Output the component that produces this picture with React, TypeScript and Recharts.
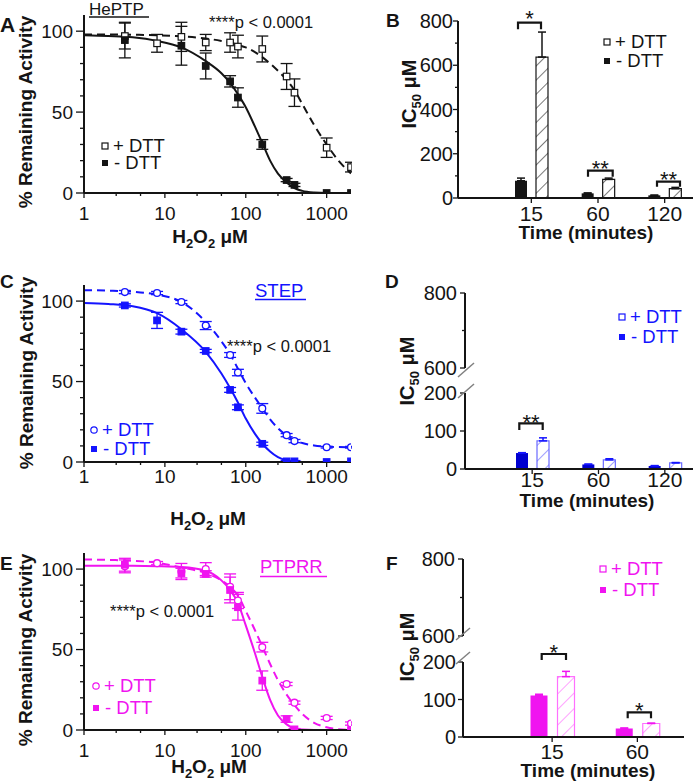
import React from 'react';
import { ComposedChart, BarChart, Bar, Line, Scatter, XAxis, YAxis, ErrorBar } from 'recharts';

const FONT = '"Liberation Sans", Arial, Helvetica, sans-serif';
const INK = '#141414';
const BLUE = '#1414ff';
const BLUE_DARK = '#0000d0';
const BLUE_LIGHT = '#6a6aff';
const MAGENTA = '#f014f0';
const MAGENTA_LIGHT = '#ff70ff';

// ---------- dose–response data (H2O2 µM vs % remaining activity) ----------
const concAll = [3.2, 8, 16, 32, 64, 80, 160, 320, 400, 1000, 2000];

const heptpPlusY = [97, 92.5, 96.5, 93, 93, 90.5, 89, 72, 62, 28, 16];
const heptpPlusErr = [8, 5.5, 9, 5, 6, 7, 8, 8, 8.5, 6, 3];
const heptpMinusX = [3.2, 16, 32, 64, 80, 160, 320, 400, 1000, 2000];
const heptpMinusY = [94.5, 91, 78.5, 69, 59, 30, 8, 5, 0, 0];
const heptpMinusErr = [11, 12, 8, 3.5, 6, 3, 1, 1, 0, 0];

const stepPlusY = [105.6, 105, 99.4, 84.8, 66.5, 55.6, 33.3, 16.7, 13, 9.2, 9.2];
const stepPlusErr = [1, 1, 1, 2.5, 1.5, 2, 3, 1, 1, 0.5, 0.5];
const stepMinusY = [97.3, 88, 81, 69, 44.8, 34, 11.3, 0.4, 0.4, 0, 0.4];
const stepMinusErr = [1, 5, 1.5, 1, 1.5, 1.5, 1, 0.5, 0.5, 0, 0];

const ptprrPlusY = [101.7, 103.7, 98.5, 100, 89, 80.5, 51.5, 28.6, 17, 7.5, 4];
const ptprrPlusErr = [4, 1, 5, 4, 8, 5, 3, 1, 1, 1, 1];
const ptprrMinusX = [3.2, 16, 32, 64, 80, 160, 320, 400, 2000];
const ptprrMinusY = [102.7, 97.5, 97, 87, 76.3, 30.7, 6.8, 0.4, 0];
const ptprrMinusErr = [4, 3, 2, 8, 8, 6, 2, 0.5, 0];

// fitted curves
const curveX = [1, 2, 4, 8, 16, 32, 50, 64, 80, 100, 130, 160, 200, 250, 320, 400, 500, 700, 1000, 1400, 2000];
const heptpPlusFit = [98, 98, 97.8, 97.5, 96.8, 95.5, 94, 93, 91.5, 90, 87, 84, 80, 75.5, 70, 63.5, 55, 42, 30, 20, 12];
const heptpMinusFit = [97.5, 97, 96.2, 94, 90, 81.5, 74, 68, 61, 53, 41, 31, 20, 12, 6.5, 3, 1.3, 0.3, 0, 0, 0];
const stepPlusFit = [106.8, 106.5, 105.8, 104, 99.5, 87, 75, 67, 58, 49, 40, 33.5, 26.5, 21, 16.5, 13.5, 11.8, 10.3, 9.6, 9.3, 9.2];
const stepMinusFit = [98.8, 98.2, 96.8, 92.5, 82.5, 68.5, 55, 46, 37, 27, 17.5, 11.5, 6.5, 3, 1, 0.3, 0, 0, 0, 0, 0];
const ptprrPlusFit = [106, 105.7, 105.2, 104, 101, 97.5, 93, 89, 83.5, 74, 62, 52, 41, 31, 22, 15.5, 10, 4.5, 1.7, 0.5, 0];
const ptprrMinusFit = [102, 102, 102, 101.8, 101.3, 99, 93, 87, 79, 65, 47.7, 33, 18.7, 9, 3.5, 1, 0.3, 0, 0, 0, 0];

const logTicks = [1, 2.5, 5, 10, 25, 50, 100, 250, 500, 1000];
const logLabels = [1, 10, 100, 1000];
const activityTicks = [0, 10, 20, 30, 40, 50, 60, 70, 80, 90, 100];
const activityLabels = [0, 50, 100];

// ---------- IC50 bar data ----------
const timesBD = ['15', '60', '120'];
const heptpIcMinus = [78, 21, 12];
const heptpIcMinusErr = [12, 2, 1];
const heptpIcPlus = [637, 84, 42];
const heptpIcPlusErr = [113, 6, 6];

const stepIcMinus = [42, 12, 8];
const stepIcMinusErr = [1, 1, 1];
const stepIcPlus = [74, 24, 16];
const stepIcPlusErr = [8, 3, 1];

const timesF = ['15', '60'];
const ptprrIcMinus = [111, 23];
const ptprrIcMinusErr = [3, 1];
const ptprrIcPlus = [161, 36];
const ptprrIcPlusErr = [14, 1];

const icTicksFull = [0, 100, 200, 300, 400, 500, 600, 700, 800];
const icLabelsFull = [0, 200, 400, 600, 800];

type Pt = { x: number; y: number; e: number };
const mk = (xs: number[], ys: number[], es?: number[]): Pt[] =>
  xs.map((x, i) => ({ x, y: ys[i], e: es ? es[i] : 0 }));
const mkRows = (ts: string[], mi: number[], miE: number[], pl: number[], plE: number[]) =>
  ts.map((t, i) => ({ t, minus: mi[i], minusE: [0, miE[i]], plus: pl[i], plusE: [0, plE[i]] }));

// ---------- ticks ----------
const logTick = (labelDy: number) => (props: any) => {
  const { x, y, payload } = props;
  const v = payload.value;
  const major = logLabels.includes(v);
  return (
    <g>
      <line x1={x} x2={x} y1={y} y2={y + (major ? 5 : 3)} stroke={INK} strokeWidth={1.3} />
      {major && (
        <text x={x} y={y + labelDy} textAnchor="middle" fontSize={19} fill={INK} fontFamily={FONT}>
          {v}
        </text>
      )}
    </g>
  );
};

const actTick = (props: any) => {
  const { x, y, payload } = props;
  const v = payload.value;
  const major = activityLabels.includes(v);
  return (
    <g>
      <line x1={x} x2={x - (major ? 8 : 4)} y1={y} y2={y} stroke={INK} strokeWidth={1.3} />
      {major && (
        <text x={x - 11} y={y + 6.5} textAnchor="end" fontSize={19} fill={INK} fontFamily={FONT}>
          {v}
        </text>
      )}
    </g>
  );
};

const icTick = (labels: number[], gap: number) => (props: any) => {
  const { x, y, payload } = props;
  const v = payload.value;
  const major = labels.includes(v);
  return (
    <g>
      <line x1={x} x2={x - (major ? 5 : 3)} y1={y} y2={y} stroke={INK} strokeWidth={1.3} />
      {major && (
        <text x={x - gap} y={y + 7} textAnchor="end" fontSize={20} fill={INK} fontFamily={FONT}>
          {v}
        </text>
      )}
    </g>
  );
};

const catTick = (labelDy: number) => (props: any) => {
  const { x, y, payload } = props;
  return (
    <g>
      <line x1={x} x2={x} y1={y} y2={y + 5} stroke={INK} strokeWidth={1.3} />
      <text x={x} y={y + labelDy} textAnchor="middle" fontSize={21} fill={INK} fontFamily={FONT}>
        {payload.value}
      </text>
    </g>
  );
};

// ---------- marker shapes ----------
const squareShape = (color: string, filled: boolean, s = 6.5) => (p: any) => {
  if (p.cx == null || p.cy == null) return <g />;
  return (
    <rect x={p.cx - s / 2} y={p.cy - s / 2} width={s} height={s}
      fill={filled ? color : '#fff'} stroke={color} strokeWidth={1.2} />
  );
};
const circleShape = (color: string) => (p: any) => {
  if (p.cx == null || p.cy == null) return <g />;
  return <circle cx={p.cx} cy={p.cy} r={3.4} fill="#fff" stroke={color} strokeWidth={1.3} />;
};

type DoseProps = {
  top: number;
  plotH: number;
  color: string;
  plus: Pt[];
  minus: Pt[];
  plusFit: Pt[];
  minusFit: Pt[];
  circlePlus: boolean;
  labelDy: number;
};

function DosePanel({ top, plotH, color, plus, minus, plusFit, minusFit, circlePlus, labelDy }: DoseProps) {
  const height = 255;
  return (
    <div style={{ position: 'absolute', left: 0, top }}>
      <ComposedChart width={352} height={height} margin={{ top: 15, right: 1, bottom: 0, left: 0 }}>
        <XAxis type="number" dataKey="x" scale="log" domain={[1, 2000]} allowDataOverflow
          ticks={logTicks} interval={0} tickSize={0} tickMargin={0} tickLine={false}
          tick={logTick(labelDy)} axisLine={{ stroke: INK, strokeWidth: 2 }} height={height - 15 - plotH} />
        <YAxis type="number" dataKey="y" domain={[0, 110]} allowDataOverflow ticks={activityTicks}
          interval={0} tickSize={0} tickMargin={0} tickLine={false} tick={actTick}
          axisLine={{ stroke: INK, strokeWidth: 2 }} width={84} />
        <Line data={plusFit} dataKey="y" type="monotone" stroke={color} strokeWidth={2}
          strokeDasharray="8 5" dot={false} activeDot={false} isAnimationActive={false} />
        <Line data={minusFit} dataKey="y" type="monotone" stroke={color} strokeWidth={2}
          dot={false} activeDot={false} isAnimationActive={false} />
        <Scatter data={plus} shape={circlePlus ? circleShape(color) : squareShape(color, false)} isAnimationActive={false}>
          <ErrorBar dataKey="e" direction="y" width={6} stroke={color} strokeWidth={1.3} />
        </Scatter>
        <Scatter data={minus} shape={squareShape(color, true)} isAnimationActive={false}>
          <ErrorBar dataKey="e" direction="y" width={6} stroke={color} strokeWidth={1.3} />
        </Scatter>
      </ComposedChart>
    </div>
  );
}

type BarProps = {
  id: string;
  top: number;
  width: number;
  rows: any[];
  yWidth: number;
  padLeft: number;
  padRight: number;
  plotH: number;
  domain: [number, number];
  ticks: number[];
  labels: number[];
  labelGap: number;
  labelDy: number;
  barSize: number;
  barGap: number;
  solid: string;
  hatchStroke: string;
  outline: string;
  errColor: string;
  hatchGap: number;
};

function BarPanel(p: BarProps) {
  const height = 10 + p.plotH + 50;
  return (
    <div style={{ position: 'absolute', left: 350, top: p.top }}>
      <BarChart width={p.width} height={height} data={p.rows} margin={{ top: 10, right: 0, bottom: 0, left: 0 }}
        barSize={p.barSize} barGap={p.barGap}>
        <defs>
          <pattern id={p.id} patternUnits="userSpaceOnUse" width={p.hatchGap} height={p.hatchGap} patternTransform="rotate(45)">
            <rect x={0} y={0} width={p.hatchGap} height={p.hatchGap} fill="#fff" />
            <line x1={0} y1={0} x2={0} y2={p.hatchGap} stroke={p.hatchStroke} strokeWidth={1.3} />
          </pattern>
        </defs>
        <XAxis dataKey="t" type="category" padding={{ left: p.padLeft, right: p.padRight }}
          tickSize={0} tickMargin={0} tickLine={false} interval={0} tick={catTick(p.labelDy)}
          axisLine={{ stroke: INK, strokeWidth: 2 }} height={50} />
        <YAxis type="number" domain={p.domain} allowDataOverflow ticks={p.ticks} interval={0}
          tickSize={0} tickMargin={0} tickLine={false} tick={icTick(p.labels, p.labelGap)}
          axisLine={{ stroke: INK, strokeWidth: 2 }} width={p.yWidth} />
        <Bar dataKey="minus" fill={p.solid} isAnimationActive={false}>
          <ErrorBar dataKey="minusE" direction="y" width={4} stroke={p.errColor} strokeWidth={1.5} />
        </Bar>
        <Bar dataKey="plus" fill={`url(#${p.id})`} stroke={p.outline} strokeWidth={1.2} isAnimationActive={false}>
          <ErrorBar dataKey="plusE" direction="y" width={4} stroke={p.errColor} strokeWidth={1.5} />
        </Bar>
      </BarChart>
    </div>
  );
}

function UpperAxis({ top, width, rows, yWidth, plotH, padLeft, padRight }: any) {
  return (
    <div style={{ position: 'absolute', left: 350, top }}>
      <BarChart width={width} height={10 + plotH + 15} data={rows} margin={{ top: 10, right: 0, bottom: 15, left: 0 }}>
        <XAxis dataKey="t" type="category" hide padding={{ left: padLeft, right: padRight }} />
        <YAxis type="number" domain={[600, 800]} allowDataOverflow ticks={[600, 700, 800]} interval={0}
          tickSize={0} tickMargin={0} tickLine={false} tick={icTick([600, 800], 8)}
          axisLine={{ stroke: INK, strokeWidth: 2 }} width={yWidth} />
      </BarChart>
    </div>
  );
}

const H2O2 = ({ x, y }: { x: number; y: number }) => (
  <text x={x} y={y} textAnchor="middle" fontSize={19} fontWeight="bold" fill={INK}>
    <tspan>H</tspan>
    <tspan fontSize={13} dy={5}>2</tspan>
    <tspan dy={-5}>O</tspan>
    <tspan fontSize={13} dy={5}>2</tspan>
    <tspan dy={-5}>{'\u00A0\u03BCM'}</tspan>
  </text>
);

const YTitle = ({ x, y }: { x: number; y: number }) => (
  <text x={x} y={y} transform={`rotate(-90 ${x} ${y})`} textAnchor="middle" fontSize={19} fontWeight="bold" fill={INK}>
    % Remaining Activity
  </text>
);

const ICTitle = ({ x, y }: { x: number; y: number }) => (
  <text x={x} y={y} transform={`rotate(-90 ${x} ${y})`} textAnchor="middle" fontSize={20} fontWeight="bold" fill={INK}>
    <tspan>IC</tspan>
    <tspan fontSize={13} dy={5}>50</tspan>
    <tspan dy={-5}>{'\u00A0\u03BCM'}</tspan>
  </text>
);

const Bracket = ({ x1, x2, y1, y2, stars, sy }: any) => (
  <g>
    <path d={`M${x1},${y2} L${x1},${y1} L${x2},${y1} L${x2},${y2}`} fill="none" stroke={INK} strokeWidth={2.2} />
    <text x={(x1 + x2) / 2} y={sy} textAnchor="middle" fontSize={22} fill={INK}>{stars}</text>
  </g>
);

const Legend = ({ x, y1, y2, color, circle }: any) => (
  <g>
    {circle ? (
      <circle cx={x + 3} cy={y1 - 6} r={3.2} fill="#fff" stroke={color} strokeWidth={1.2} />
    ) : (
      <rect x={x} y={y1 - 9} width={6} height={6} fill="#fff" stroke={color} strokeWidth={1.2} />
    )}
    <text x={x + 11} y={y1} fontSize={18.5} fill={color}>+ DTT</text>
    <rect x={x} y={y2 - 9} width={6} height={6} fill={color} />
    <text x={x + 12} y={y2} fontSize={18.5} fill={color}>- DTT</text>
  </g>
);

export default function App() {
  const aPlus = mk(concAll, heptpPlusY, heptpPlusErr);
  const aMinus = mk(heptpMinusX, heptpMinusY, heptpMinusErr);
  const cPlus = mk(concAll, stepPlusY, stepPlusErr);
  const cMinus = mk(concAll, stepMinusY, stepMinusErr);
  const ePlus = mk(concAll, ptprrPlusY, ptprrPlusErr);
  const eMinus = mk(ptprrMinusX, ptprrMinusY, ptprrMinusErr);

  const bRows = mkRows(timesBD, heptpIcMinus, heptpIcMinusErr, heptpIcPlus, heptpIcPlusErr);
  const dRows = mkRows(timesBD, stepIcMinus, stepIcMinusErr, stepIcPlus, stepIcPlusErr);
  const fRows = mkRows(timesF, ptprrIcMinus, ptprrIcMinusErr, ptprrIcPlus, ptprrIcPlusErr);

  return (
    <div style={{ position: 'absolute', left: 0, top: 0, width: 693, height: 782, overflow: 'hidden', background: '#fff', fontFamily: FONT }}>
      <DosePanel top={0} plotH={178} color={INK} plus={aPlus} minus={aMinus}
        plusFit={mk(curveX, heptpPlusFit)} minusFit={mk(curveX, heptpMinusFit)} circlePlus={false} labelDy={27} />
      <DosePanel top={270} plotH={177} color={BLUE} plus={cPlus} minus={cMinus}
        plusFit={mk(curveX, stepPlusFit)} minusFit={mk(curveX, stepMinusFit)} circlePlus={true} labelDy={21} />
      <DosePanel top={538} plotH={177} color={MAGENTA} plus={ePlus} minus={eMinus}
        plusFit={mk(curveX, ptprrPlusFit)} minusFit={mk(curveX, ptprrMinusFit)} circlePlus={true} labelDy={27} />

      <BarPanel id="hatchB" top={11} width={348} rows={bRows} yWidth={108} padLeft={40} padRight={0}
        plotH={177} domain={[0, 800]} ticks={icTicksFull} labels={icLabelsFull} labelGap={5} labelDy={23}
        barSize={12} barGap={9} solid={INK} hatchStroke="#333" outline={INK} errColor={INK} hatchGap={10} />

      <UpperAxis top={283} width={348} rows={dRows} yWidth={115} plotH={75} padLeft={34} padRight={0} />
      <BarPanel id="hatchD" top={383} width={348} rows={dRows} yWidth={115} padLeft={34} padRight={0}
        plotH={76} domain={[0, 200]} ticks={[0, 100, 200]} labels={[0, 100, 200]} labelGap={8} labelDy={18}
        barSize={12} barGap={9} solid={BLUE_DARK} hatchStroke={BLUE_LIGHT} outline={BLUE_LIGHT} errColor={BLUE} hatchGap={11} />

      <UpperAxis top={549} width={334} rows={fRows} yWidth={113} plotH={77} padLeft={46.5} padRight={4} />
      <BarPanel id="hatchF" top={652} width={334} rows={fRows} yWidth={113} padLeft={46.5} padRight={4}
        plotH={75} domain={[0, 200]} ticks={[0, 100, 200]} labels={[0, 100, 200]} labelGap={7} labelDy={22}
        barSize={17} barGap={10} solid={MAGENTA} hatchStroke={MAGENTA_LIGHT} outline={MAGENTA_LIGHT} errColor={MAGENTA} hatchGap={11} />

      <svg width={693} height={782} style={{ position: 'absolute', left: 0, top: 0, pointerEvents: 'none' }} fontFamily={FONT}>
        {/* panel letters */}
        <text x={0} y={32} fontSize={21} fontWeight="bold" fill={INK}>A</text>
        <text x={386} y={27} fontSize={19} fontWeight="bold" fill={INK}>B</text>
        <text x={0} y={288} fontSize={19} fontWeight="bold" fill={INK}>C</text>
        <text x={385} y={288} fontSize={19} fontWeight="bold" fill={INK}>D</text>
        <text x={0} y={570} fontSize={19} fontWeight="bold" fill={INK}>E</text>
        <text x={386} y={570} fontSize={19} fontWeight="bold" fill={INK}>F</text>

        {/* protein names */}
        <text x={89} y={15} fontSize={17} fill={INK}>HePTP</text>
        <line x1={89} x2={149} y1={17} y2={17} stroke={INK} strokeWidth={1.3} />
        <text x={255} y={296.5} fontSize={18.5} fill={BLUE}>STEP</text>
        <line x1={255} x2={306} y1={299.5} y2={299.5} stroke={BLUE} strokeWidth={1.3} />
        <text x={260} y={573} fontSize={18.5} fill={MAGENTA}>PTPRR</text>
        <line x1={260} x2={327} y1={576.5} y2={576.5} stroke={MAGENTA} strokeWidth={1.3} />

        {/* p-values */}
        <text x={209} y={28} fontSize={16.5} fill={INK}>****p &lt; 0.0001</text>
        <text x={227} y={352} fontSize={16.5} fill={INK}>****p &lt; 0.0001</text>
        <text x={110} y={617} fontSize={16.5} fill={INK}>****p &lt; 0.0001</text>

        {/* axis titles */}
        <H2O2 x={210} y={243} />
        <H2O2 x={208} y={525} />
        <H2O2 x={209} y={773} />
        <YTitle x={32} y={112} />
        <YTitle x={33} y={373} />
        <YTitle x={32} y={650} />
        <ICTitle x={416} y={94} />
        <ICTitle x={414} y={371} />
        <ICTitle x={414} y={647} />
        <text x={586} y={239} textAnchor="middle" fontSize={19} fontWeight="bold" fill={INK}>Time (minutes)</text>
        <text x={587} y={507} textAnchor="middle" fontSize={19} fontWeight="bold" fill={INK}>Time (minutes)</text>
        <text x={588} y={777} textAnchor="middle" fontSize={19} fontWeight="bold" fill={INK}>Time (minutes)</text>

        {/* legends */}
        <Legend x={102} y1={152} y2={169} color={INK} circle={false} />
        <Legend x={604} y1={48} y2={67} color={INK} circle={false} />
        <Legend x={91} y1={436} y2={455} color={BLUE} circle={true} />
        <Legend x={619} y1={323} y2={343} color={BLUE} circle={false} />
        <Legend x={93} y1={692} y2={714} color={MAGENTA} circle={true} />
        <Legend x={600} y1={575} y2={596} color={MAGENTA} circle={false} />

        {/* significance brackets */}
        <Bracket x1={518} x2={541} y1={22.7} y2={29.3} stars="*" sy={26} />
        <Bracket x1={588} x2={612.7} y1={170.7} y2={176.7} stars="**" sy={175.5} />
        <Bracket x1={657} x2={680} y1={181.7} y2={186.7} stars="**" sy={186.8} />
        <Bracket x1={519.3} x2={542.7} y1={423.3} y2={430} stars="**" sy={429.5} />
        <Bracket x1={541.7} x2={566} y1={654} y2={660} stars="*" sy={659.5} />
        <Bracket x1={627.7} x2={651} y1={712.3} y2={718.3} stars="*" sy={718} />

        {/* axis breaks */}
        <line x1={458} y1={377} x2={474} y2={363} stroke="#808080" strokeWidth={1.5} />
        <line x1={458} y1={398} x2={474} y2={384} stroke="#808080" strokeWidth={1.5} />
        <line x1={456} y1={640} x2={470} y2={628} stroke="#808080" strokeWidth={1.5} />
        <line x1={456} y1={664} x2={470} y2={652} stroke="#808080" strokeWidth={1.5} />
      </svg>
    </div>
  );
}
